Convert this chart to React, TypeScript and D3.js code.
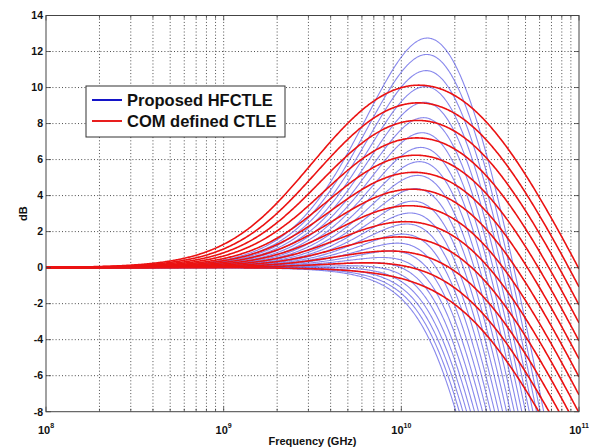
import React from "react";
import * as d3 from "d3";

// ---- data ----
// COM defined CTLE: DC gain settings (dB), normalised to 0 dB at DC
const redGdc: number[] = [-12, -11, -10, -9, -8, -7, -6, -5, -4, -3, -2, -1, 0];
// COM CTLE corner frequencies (Hz): fb = 25.78125 GBd, fz = fp1 = fb/4, fp2 = fb
const comFb = 25.78125e9;
// Proposed HFCTLE: high-frequency boost settings (dB)
const blueBoost: number[] = [0, 1, 2, 3, 4, 5, 6, 7, 8, 9, 10, 11, 12, 13, 14, 15, 16, 17, 18, 19, 20, 21, 22, 23];
// HFCTLE corner frequencies (Hz): boost pole, bandwidth pole, roll-off corner, roll-off order
const hfPole = 1.6e10;
const hfBwPole = 2.0e10;
const hfRollCorner = 1.63e10;
const hfRollOrder = 3.4;

const yTicks: number[] = [-8, -6, -4, -2, 0, 2, 4, 6, 8, 10, 12, 14];
const xDecades: number[] = [8, 9, 10, 11];
const legendLabels: string[] = ["Proposed HFCTLE", "COM defined CTLE"];

function comDb(f: number, gdcDb: number): number {
  const g = Math.pow(10, gdcDb / 20);
  const fz = comFb / 4, fp1 = comFb / 4, fp2 = comFb;
  const num = Math.hypot(g, f / fz);
  const den = Math.hypot(1, f / fp1) * Math.hypot(1, f / fp2);
  return 20 * Math.log10(num / den / g);
}

function hfDb(f: number, boostDb: number): number {
  const fz = hfPole * Math.pow(10, -boostDb / 40);
  const s = 40 * Math.log10(Math.hypot(1, f / fz) / Math.hypot(1, f / hfPole));
  const l = -10 * Math.log10(1 + Math.pow(f / hfBwPole, 2)) - 10 * Math.log10(1 + Math.pow(f / hfRollCorner, hfRollOrder));
  return s + l;
}

const W = 589, H = 448;
const M = { left: 46, right: 579, top: 15.5, bottom: 411.7 };

export default function App() {
  const x = d3.scaleLog().domain([1e8, 1e11]).range([M.left, M.right]);
  const y = d3.scaleLinear().domain([-8, 14]).range([M.bottom, M.top]);
  const freqs = d3.range(0, 601).map((i) => Math.pow(10, 8 + (3 * i) / 600));

  const line = d3
    .line<[number, number]>()
    .x((d) => x(d[0]))
    .y((d) => y(Math.max(-20, d[1])));

  const xGrid: number[] = [];
  for (const d of [8, 9, 10]) for (let m = 1; m <= 9; m++) xGrid.push(m * Math.pow(10, d));
  xGrid.push(1e11);

  const font = "'Liberation Sans', Arial, sans-serif";
  const gridColor = "#3a3a3a";

  return (
    <svg width={W} height={H} style={{ position: "absolute", left: 0, top: 0, background: "#fff" }} fontFamily={font}>
      <defs>
        <clipPath id="plot">
          <rect x={M.left} y={M.top} width={M.right - M.left} height={M.bottom - M.top} />
        </clipPath>
      </defs>
      <rect x={0} y={0} width={W} height={H} fill="#fff" />
      {/* grid */}
      {xGrid
        .filter((v) => v > 1e8 && v < 1e11)
        .map((v, i) => (
          <line key={"gx" + i} x1={x(v)} x2={x(v)} y1={M.top} y2={M.bottom} stroke={gridColor} strokeWidth={0.9} strokeDasharray="1,2.2" />
        ))}
      {yTicks
        .filter((v) => v > -8 && v < 14)
        .map((v) => (
          <line key={"gy" + v} x1={M.left} x2={M.right} y1={y(v)} y2={y(v)} stroke={gridColor} strokeWidth={0.9} strokeDasharray="1,2.2" />
        ))}
      {/* curves */}
      <g clipPath="url(#plot)" fill="none">
        {blueBoost.map((g) => (
          <path
            key={"b" + g}
            d={line(freqs.map((f) => [f, hfDb(f, g)] as [number, number])) || ""}
            stroke="rgb(85,85,228)"
            strokeOpacity={0.7}
            strokeWidth={1.1}
          />
        ))}
        {redGdc.map((g) => (
          <path
            key={"r" + g}
            d={line(freqs.map((f) => [f, comDb(f, g)] as [number, number])) || ""}
            stroke="rgb(235,18,18)"
            strokeWidth={1.6}
          />
        ))}
      </g>
      {/* ticks */}
      {xGrid.map((v, i) => {
        const major = Math.abs(Math.log10(v) - Math.round(Math.log10(v))) < 1e-9;
        const len = major ? 5 : 3;
        return (
          <g key={"tx" + i} stroke="#444" strokeWidth={0.8}>
            <line x1={x(v)} x2={x(v)} y1={M.bottom} y2={M.bottom - len} />
            <line x1={x(v)} x2={x(v)} y1={M.top} y2={M.top + len} />
          </g>
        );
      })}
      {yTicks.map((v) => (
        <g key={"ty" + v} stroke="#444" strokeWidth={0.8}>
          <line x1={M.left} x2={M.left + 5} y1={y(v)} y2={y(v)} />
          <line x1={M.right} x2={M.right - 5} y1={y(v)} y2={y(v)} />
        </g>
      ))}
      {/* frame */}
      <rect x={M.left} y={M.top} width={M.right - M.left} height={M.bottom - M.top} fill="none" stroke="#444" strokeWidth={1} />
      {/* y tick labels */}
      {yTicks.map((v) => (
        <text key={"ly" + v} x={M.left - 3} y={y(v) + 3.8} fontSize={10.5} fontWeight="bold" textAnchor="end" fill="#111">
          {v}
        </text>
      ))}
      {/* x tick labels */}
      {xDecades.map((d) => (
        <text key={"lx" + d} x={x(Math.pow(10, d))} y={434} fontSize={11} fontWeight="bold" textAnchor="middle" fill="#111">
          10
          <tspan dy={-6} fontSize={7}>
            {d}
          </tspan>
        </text>
      ))}
      {/* axis titles */}
      <text x={(M.left + M.right) / 2} y={445} fontSize={11} fontWeight="bold" textAnchor="middle" fill="#111">
        Frequency (GHz)
      </text>
      <text transform={`translate(27,${(M.top + M.bottom) / 2}) rotate(-90)`} fontSize={11} fontWeight="bold" textAnchor="middle" fill="#111">
        dB
      </text>
      {/* legend */}
      <g>
        <rect x={86} y={86} width={199} height={51} fill="#fff" stroke="#333" strokeWidth={1} />
        <line x1={92} x2={122} y1={100} y2={100} stroke="rgb(20,20,200)" strokeWidth={2} />
        <line x1={92} x2={122} y1={121} y2={121} stroke="rgb(232,30,30)" strokeWidth={2} />
        <text x={127} y={106} fontSize={16.5} fontWeight="bold" fill="#111">
          {legendLabels[0]}
        </text>
        <text x={127} y={127} fontSize={16.5} fontWeight="bold" fill="#111">
          {legendLabels[1]}
        </text>
      </g>
    </svg>
  );
}
